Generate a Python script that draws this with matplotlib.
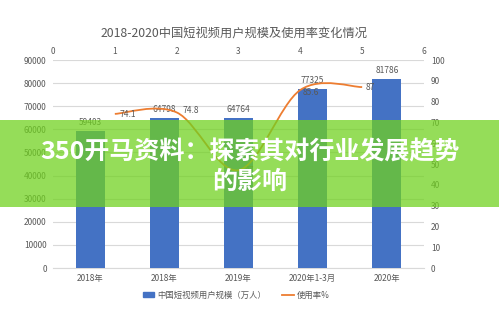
import matplotlib
matplotlib.use("Agg")
import matplotlib.pyplot as plt
from matplotlib.path import Path
from matplotlib.patches import PathPatch, Rectangle, Patch
from matplotlib.lines import Line2D
import numpy as np

plt.rcParams['font.family'] = ['Noto Sans CJK SC', 'DejaVu Sans']

title = "2018-2020中国短视频用户规模及使用率变化情况"
categories = ["2018年", "2018年", "2019年", "2020年1-3月", "2020年"]
users = [59403, 64798, 64764, 77325, 81786]          # 万人
usage_rate = [74.1, 74.8, 47, 85.6, 87]              # %
rate_x = [1, 2, 3, 4, 5]
bar_legend = "中国短视频用户规模（万人）"
line_legend = "使用率%"
banner_lines = ["350开马资料：探索其对行业发展趋势", "的影响"]

BLUE = "#4472C4"
ORANGE = "#ED7D31"
GRAY = "#595959"
GRID = "#D9D9D9"

fig = plt.figure(figsize=(4.99, 3.28), dpi=100)
rect = [53 / 499, 1 - 268 / 328, (424 - 53) / 499, (268 - 60) / 328]
ax = fig.add_axes(rect)
ax2 = fig.add_axes(rect, frameon=False)

# primary axes: bars
x = np.arange(len(categories))
bars = ax.bar(x, users, width=0.39, color=BLUE, zorder=3)
ax.set_xlim(-0.5, len(categories) - 0.5)
ax.set_ylim(0, 90000)
ax.set_yticks(np.arange(0, 90001, 10000))
ax.set_xticks(x)
ax.set_xticklabels(categories)
ax.yaxis.grid(True, color=GRID, linewidth=0.8, zorder=0)
for s in ["top", "right", "left"]:
    ax.spines[s].set_visible(False)
ax.spines["bottom"].set_color(GRID)
ax.tick_params(axis="both", length=0, labelsize=6, colors=GRAY)
ax.tick_params(axis="y", pad=4.5)
ax.tick_params(axis="x", pad=4)
for xi, v in zip(x, users):
    ax.annotate(f"{v}", (xi, v), xytext=(0, 4), textcoords="offset pixels",
                ha="center", va="bottom", fontsize=6, color=GRAY, zorder=4)

# secondary axes: smoothed usage-rate line (Catmull-Rom as cubic Bezier)
ax2.set_xlim(0, 6)
ax2.set_ylim(0, 100)
ax2.xaxis.tick_top()
ax2.yaxis.tick_right()
ax2.set_xticks(range(0, 7))
ax2.set_yticks(range(0, 101, 10))
ax2.tick_params(axis="both", length=0, labelsize=6, colors=GRAY)
ax2.tick_params(axis="y", pad=5)
ax2.tick_params(axis="x", pad=3)

pts = np.column_stack([rate_x, usage_rate]).astype(float)
ext = np.vstack([pts[0], pts, pts[-1]])
verts = [tuple(pts[0])]
codes = [Path.MOVETO]
for i in range(len(pts) - 1):
    p0, p1, p2, p3 = ext[i], ext[i + 1], ext[i + 2], ext[i + 3]
    c1 = p1 + (p2 - p0) / 6
    c2 = p2 - (p3 - p1) / 6
    verts += [tuple(c1), tuple(c2), tuple(p2)]
    codes += [Path.CURVE4] * 3
ax2.add_patch(PathPatch(Path(verts, codes), facecolor="none",
                        edgecolor=ORANGE, linewidth=1.3, zorder=5))

label_offsets = [(5, -1), (6, 2), (6, 0), (2, -3), (3, 0)]
for xv, yv, off in zip(rate_x, usage_rate, label_offsets):
    ax2.annotate(f"{yv:g}", (xv, yv), xytext=off, textcoords="offset pixels",
                 ha="left", va="center", fontsize=6, color=GRAY, zorder=6)

# title
fig.text(234 / 499, 1 - 33 / 328, title, ha="center", va="center",
         fontsize=8.8, color=GRAY)

# legend
handles = [Patch(facecolor=BLUE, edgecolor=BLUE),
           Line2D([0], [0], color=ORANGE, linewidth=1.3)]
fig.legend(handles, [bar_legend, line_legend], loc="center",
           bbox_to_anchor=(236 / 499, 1 - 295 / 328), ncol=2, frameon=False,
           fontsize=6, handlelength=1.4, handleheight=0.5, handletextpad=0.3,
           columnspacing=2.0, labelcolor=GRAY)

# green headline banner across the chart
fig.patches.append(Rectangle((0, 1 - 207 / 328), 1, 87 / 328,
                             transform=fig.transFigure, facecolor=(0.44, 0.82, 0.12),
                             alpha=0.74, edgecolor="none", zorder=10))
for txt, ypx in zip(banner_lines, [152, 182]):
    fig.text(250 / 499, 1 - ypx / 328, txt, ha="center", va="center",
             fontsize=18, fontweight="bold", color="white", zorder=11)

fig.savefig("out.png", dpi=100)
